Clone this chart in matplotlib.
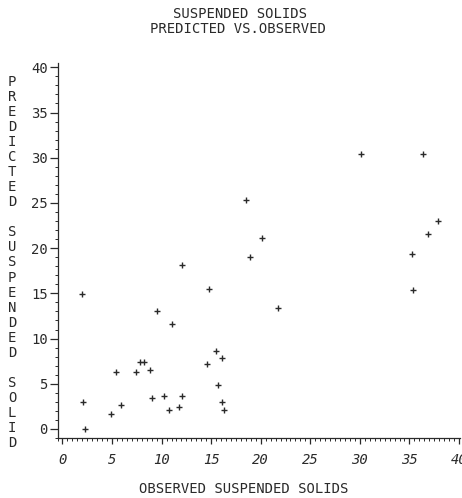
import numpy as np
import matplotlib
matplotlib.use("Agg")
import matplotlib.pyplot as plt
from matplotlib.ticker import MultipleLocator

# observed vs predicted suspended solids
observed = [2.0, 2.1, 2.3, 4.9, 5.45, 5.9, 7.4, 7.8, 8.2, 8.8, 9.0, 9.5,
            10.25, 10.7, 11.05, 11.8, 12.1, 12.1, 14.55, 14.75, 15.45, 15.65,
            16.1, 16.05, 16.25, 18.5, 18.9, 20.15, 21.7, 30.15, 36.35, 35.3,
            35.4, 36.9, 37.85]
predicted = [14.9, 3.0, 0.05, 1.7, 6.25, 2.6, 6.25, 7.4, 7.4, 6.55, 3.4, 13.1,
             3.65, 2.1, 11.6, 2.4, 18.15, 3.65, 7.15, 15.5, 8.6, 4.85,
             7.85, 3.0, 2.15, 25.3, 19.0, 21.1, 13.4, 30.4, 30.4, 19.4,
             15.4, 21.6, 23.0]
x_ticks = [0, 5, 10, 15, 20, 25, 30, 35, 40]
y_ticks = [0, 5, 10, 15, 20, 25, 30, 35, 40]

ink = "#2a2a2a"
font = "DejaVu Sans Mono"
plt.rcParams["font.family"] = font

W, H = 462, 498
fig = plt.figure(figsize=(W / 100, H / 100), dpi=100)
ax = fig.add_axes([57.5 / W, (H - 438) / H, 402.5 / W, (438 - 62.8) / H])

ax.plot(observed, predicted, linestyle="none", marker="+", markersize=5,
        markeredgewidth=1.0, color=ink)

ax.set_xlim(-0.5, 40.1)
ax.set_ylim(-1.0, 40.5)
for s in ["top", "right"]:
    ax.spines[s].set_visible(False)
for s in ["left", "bottom"]:
    ax.spines[s].set_color(ink)
    ax.spines[s].set_linewidth(0.9)

ax.set_xticks(x_ticks)
ax.set_yticks(y_ticks)
ax.xaxis.set_minor_locator(MultipleLocator(0.5))
ax.yaxis.set_minor_locator(MultipleLocator(1))
ax.tick_params(axis="x", which="major", length=4, width=0.9, color=ink, pad=7,
               labelsize=10, labelcolor=ink)
ax.tick_params(axis="x", which="minor", length=2, width=0.7, color=ink)
ax.tick_params(axis="y", which="major", length=6, width=0.9, color=ink, pad=1,
               labelsize=10, labelcolor=ink)
ax.tick_params(axis="y", which="minor", length=2.5, width=0.7, color=ink)
for lab in ax.get_xticklabels():
    lab.set_fontstyle("italic")

# titles and labels
fig.text(240 / W, 1 - 14 / H, "SUSPENDED SOLIDS", ha="center", va="center",
         fontsize=10, color=ink)
fig.text(238 / W, 1 - 29 / H, "PREDICTED VS.OBSERVED", ha="center", va="center",
         fontsize=10, color=ink)
fig.text(244 / W, 1 - 489 / H, "OBSERVED SUSPENDED SOLIDS", ha="center",
         va="center", fontsize=10, color=ink)

ylabel = "PREDICTED SUSPENDED SOLID"
for i, ch in enumerate(ylabel):
    fig.text(12 / W, 1 - (82 + 15.04 * i) / H, ch, ha="center", va="center",
             fontsize=10, color=ink)

fig.savefig("out.png", dpi=100, facecolor="white")
